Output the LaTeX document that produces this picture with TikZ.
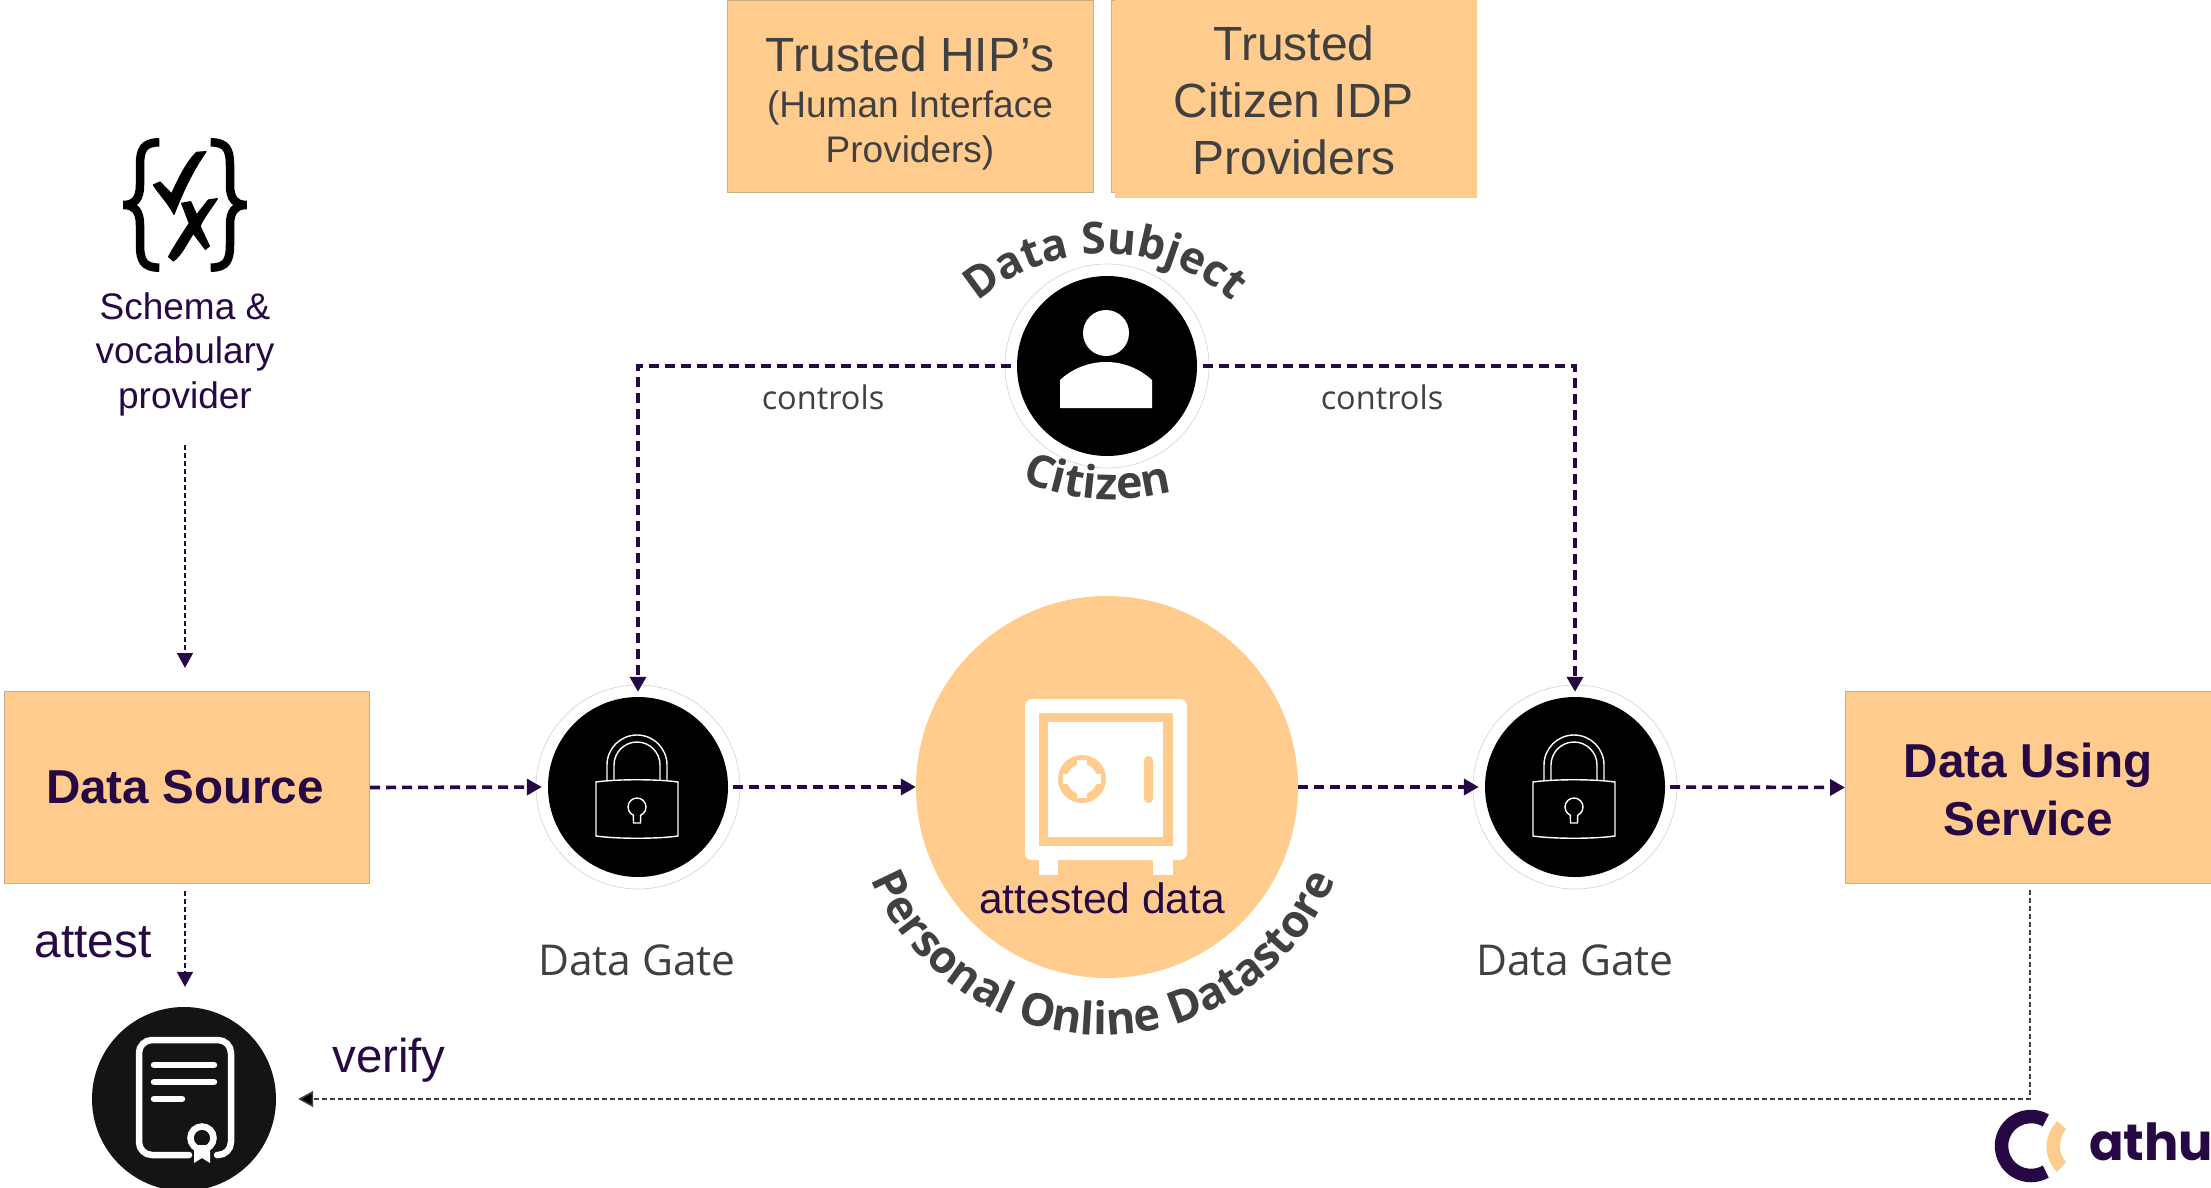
\documentclass[tikz,border=0pt]{standalone}
\usepackage{fontspec}
\setmainfont{Liberation Sans}
\newfontfamily\opensans{Open Sans}
\newfontfamily\pop{Poppins}
\usetikzlibrary{arrows.meta,decorations.text}
\definecolor{peach}{HTML}{FFCC8E}
\definecolor{plum}{HTML}{260845}
\definecolor{ink}{HTML}{404040}
\definecolor{edgetan}{HTML}{C9AE8C}
\tikzset{
  peachbox/.style={rectangle,fill=peach,draw=edgetan,line width=1pt,inner sep=0pt,align=center,anchor=north west},
  blackdisc/.style={circle,fill=black,draw=none,minimum size=180pt,inner sep=0pt},
  halo/.style={draw=black!16,line width=0.7pt},
  thickflow/.style={draw=plum,line width=3.6pt,dash pattern=on 10pt off 6pt,-{Triangle[length=15pt,width=16pt,fill=plum]}},
  thinflow/.style={draw=plum,line width=1.5pt,dash pattern=on 5pt off 3pt,-{Triangle[length=15pt,width=16pt,fill=plum]}},
  verifyflow/.style={draw=black!75,line width=1.5pt,dash pattern=on 5pt off 3pt,-{Triangle[length=15pt,width=16pt,fill=black]}},
  graytxt/.style={text=ink,font=\opensans\fontsize{42.5}{50}\selectfont},
  ctrltxt/.style={text=ink,font=\opensans\fontsize{32.5}{38}\selectfont},
  plumtxt/.style={text=plum,align=center,inner sep=0pt},
  inktxt/.style={text=ink,align=center,inner sep=0pt},
  lockline/.style={draw=white,line width=1.4pt},
}
\newcommand{\lockicon}[1]{%
  \begin{scope}[shift={(#1)}]
    \draw[lockline] (-41,-49) .. controls (-20,-52) and (20,-52) .. (41,-49) -- (41,5) .. controls (20,8) and (-20,8) .. (-41,5) -- cycle;
    \draw[lockline] (-30,6) -- (-30,22) arc (180:0:30 and 30) -- (30,6);
    \draw[lockline] (-23,7) -- (-23,22) arc (180:0:23 and 23) -- (23,7);
    \draw[lockline] (0,-20) ++(246:9) arc (246:-66:9) -- (3.5,-36) -- (-3.5,-36) -- cycle;
  \end{scope}}
\begin{document}
\begin{tikzpicture}[x=1pt,y=1pt]
\useasboundingbox (0,0) rectangle (2211,-1188);
\clip (0,0) rectangle (2211,-1188);
% top boxes
\node[peachbox,minimum width=366pt,minimum height=192pt] (hip) at (727,0) {};
\node[inktxt,anchor=base,font=\fontsize{37}{45}\selectfont] (hiptxt) at (910,-162) {{\fontsize{48}{45}\selectfont Trusted HIP’s}\\(Human Interface\\Providers)};
\node[peachbox,minimum width=365pt,minimum height=192pt] (idpback) at (1111,0) {};
\node[peachbox,minimum width=362pt,minimum height=197pt,draw=none] (idp) at (1114,0) {};
\node[inktxt,anchor=base,font=\fontsize{48}{57}\selectfont] (idptxt) at (1294,-174) {Trusted\\Citizen IDP\\Providers};
% side boxes
\node[peachbox,minimum width=365pt,minimum height=192pt] (source) at (4,-691) {};
\node[plumtxt,font=\fontsize{47.6}{58}\selectfont\bfseries] (sourcetxt) at (185,-787) {Data Source};
\node[peachbox,minimum width=366pt,minimum height=192pt] (service) at (1845,-691) {};
\node[plumtxt,anchor=base,font=\fontsize{47.6}{58}\selectfont\bfseries] (servicetxt) at (2028,-835) {Data Using\\Service};
% discs
\draw[halo] (1107,-366) circle (102);
\draw[halo] (638,-787) circle (102);
\draw[halo] (1575,-787) circle (102);
\node[blackdisc] (citizen) at (1107,-366) {};
\node[blackdisc] (lockA) at (638,-787) {};
\node[blackdisc] (lockB) at (1575,-787) {};
\node[circle,fill=peach,draw=none,minimum size=382pt,inner sep=0pt] (pod) at (1107,-787) {};
\node[circle,fill=black!92,draw=none,minimum size=184pt,inner sep=0pt] (cert) at (184,-1099) {};
% person icon
\fill[white] (1106,-333) circle (23);
\fill[white] (1060,-408) -- (1060,-380) .. controls (1072,-369) and (1088,-362) .. (1106,-362) .. controls (1124,-362) and (1140,-369) .. (1152,-380) -- (1152,-408) -- cycle;
% lock icons
\lockicon{637,-787}
\lockicon{1574,-787}
% safe
\fill[white,rounded corners=7pt] (1025,-699) rectangle (1187,-860);
\fill[peach] (1039,-713) rectangle (1173,-846);
\fill[white] (1048,-722) rectangle (1163,-837);
\fill[white] (1039,-860) rectangle (1058,-875);
\fill[white] (1153,-860) rectangle (1173,-875);
\fill[peach] (1082,-779) circle (24);
\fill[white] (1082,-779) circle (15);
\fill[white] (1077,-798) rectangle (1087,-760);
\fill[white] (1063,-784) rectangle (1101,-774);
\fill[peach,rounded corners=4.5pt] (1144,-756) rectangle (1153,-803);
\node[plumtxt,font=\fontsize{42.5}{48}\selectfont] (attested) at (1102,-898) {attested data};
% curved texts
\path[decorate,decoration={text along path,text align=center,text={|\opensans\bfseries\fontsize{44}{50}\selectfont\color{ink}|Data Subject}}]
  (1105,-448) ++(133:194) arc (133:47:194);
\path[decorate,decoration={text along path,text align=center,text={|\opensans\bfseries\fontsize{45}{50}\selectfont\color{ink}|Citizen}}]
  (1015,-478) .. controls (1070,-503) and (1125,-505) .. (1180,-490);
\path[decorate,decoration={text along path,text align=center,text={|\opensans\bfseries\fontsize{45}{50}\selectfont\color{ink}|Personal Online Datastore}}]
  (1103,-784) ++(195:251) arc (195:345:251);
% labels
\node[ctrltxt] (ctrlL) at (823,-397) {controls};
\node[ctrltxt] (ctrlR) at (1382,-397) {controls};
\node[graytxt] (gateA) at (637,-960) {Data Gate};
\node[graytxt] (gateB) at (1575,-960) {Data Gate};
\node[plumtxt,anchor=base,font=\fontsize{37}{44.5}\selectfont] (schema) at (185,-408) {Schema \&\\vocabulary\\provider};
\node[plumtxt,anchor=base,font=\fontsize{47.8}{56}\selectfont] (attest) at (93,-957) {attest};
\node[plumtxt,anchor=base,font=\fontsize{47.5}{56}\selectfont] (verify) at (389,-1072) {verify};
% schema icon
\begin{scope}[shift={(60,-120)},x=0.33333pt,y=-0.33333pt]
  \draw[line width=8.5pt,line cap=butt] (298,67) .. controls (250,67) and (240,90) .. (240,135) -- (240,195) .. controls (240,235) and (225,255) .. (190,255) .. controls (225,255) and (240,275) .. (240,315) -- (240,375) .. controls (240,420) and (250,443) .. (298,443);
  \draw[line width=8.5pt,line cap=butt] (452,67) .. controls (500,67) and (510,90) .. (510,135) -- (510,195) .. controls (510,235) and (525,255) .. (560,255) .. controls (525,255) and (510,275) .. (510,315) -- (510,375) .. controls (510,420) and (500,443) .. (452,443);
  \filldraw[line width=1.2pt,line join=round] (280,195) -- (300,186) -- (335,222) .. controls (360,165) and (385,120) .. (410,97) -- (438,95) .. controls (400,150) and (370,210) .. (342,283) .. controls (325,250) and (300,225) .. (280,195) -- cycle;
  \filldraw[line width=1.2pt,line join=round] (365,250) -- (392,245) -- (410,285) -- (445,240) -- (472,236) .. controls (450,270) and (430,295) .. (420,318) -- (448,378) -- (436,388) -- (400,340) .. controls (380,370) and (365,405) .. (340,423) -- (326,410) .. controls (345,375) and (365,345) .. (388,310) -- cycle;
\end{scope}
% certificate icon
\begin{scope}
  \draw[white,line width=6.5pt,rounded corners=13pt,line cap=round] (189,-1155) -- (139,-1155) -- (139,-1040) -- (231,-1040) -- (231,-1155) -- (217,-1155);
  \draw[white,line width=6.5pt,line cap=round] (154,-1065) -- (214,-1065);
  \draw[white,line width=6.5pt,line cap=round] (154,-1082) -- (214,-1082);
  \draw[white,line width=6.5pt,line cap=round] (154,-1099) -- (182,-1099);
  \fill[white] (194,-1145) -- (194,-1163) -- (202,-1158) -- (210,-1163) -- (210,-1145) -- cycle;
  \draw[white,line width=6.5pt] (202,-1138) circle (11.5);
\end{scope}
% logo
\draw[plum,line width=13.5pt] (2031,-1146) ++(60:29.5) arc (60:300:29.5);
\fill[peach] (2057,-1121) .. controls (2043,-1137) and (2043,-1157) .. (2057,-1172) -- (2066,-1162) .. controls (2058,-1153) and (2058,-1140) .. (2066,-1129) -- cycle;
\node[anchor=base west,inner sep=0pt,text=plum,font=\pop\bfseries\fontsize{51}{60}\selectfont] (athu) at (2089,-1160) {athu};
% free ends of the thin connectors
\coordinate (schemaOut) at (185,-445);
\coordinate (sourceIn) at (185,-668);
\coordinate (sourceOut) at (185,-891);
\coordinate (serviceOut) at (2030,-890);
% connectors
\draw[thickflow,shorten <=6pt,shorten >=5pt] (citizen.west) -- (citizen.west -| lockA.north) -- (lockA.north);
\draw[thickflow,shorten <=6pt,shorten >=5pt] (citizen.east) -- (citizen.east -| lockB.north) -- (lockB.north);
\draw[thickflow] (source.east) -- ([xshift=-6pt]lockA.west);
\draw[thickflow,shorten <=5pt] (lockA.east) -- (pod.west);
\draw[thickflow] (pod.east) -- ([xshift=-6pt]lockB.west);
\draw[thickflow,shorten <=5pt] (lockB.east) -- (service.west);
\draw[thinflow] (schemaOut) -- (sourceIn);
\draw[thinflow,shorten >=20pt] (sourceOut) -- (sourceOut |- cert.north);
\draw[verifyflow,shorten >=22pt] (serviceOut) |- (cert.east);
\end{tikzpicture}
\end{document}
